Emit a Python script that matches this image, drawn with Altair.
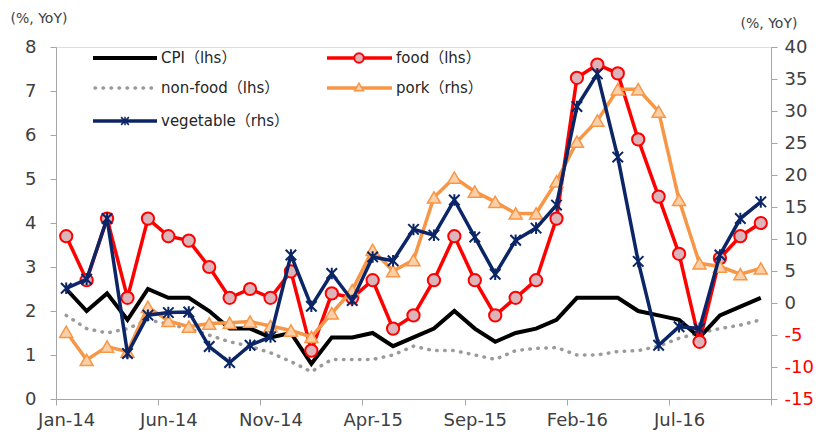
import altair as alt
import pandas as pd

months = ["Jan-14", "Feb-14", "Mar-14", "Apr-14", "May-14", "Jun-14", "Jul-14", "Aug-14", "Sep-14", "Oct-14", "Nov-14", "Dec-14",
          "Jan-15", "Feb-15", "Mar-15", "Apr-15", "May-15", "Jun-15", "Jul-15", "Aug-15", "Sep-15", "Oct-15", "Nov-15", "Dec-15",
          "Jan-16", "Feb-16", "Mar-16", "Apr-16", "May-16", "Jun-16", "Jul-16", "Aug-16", "Sep-16", "Oct-16", "Nov-16"]

cpi = [2.5, 2.0, 2.4, 1.8, 2.5, 2.3, 2.3, 2.0, 1.6, 1.6, 1.4, 1.5,
       0.8, 1.4, 1.4, 1.5, 1.2, 1.4, 1.6, 2.0, 1.6, 1.3, 1.5, 1.6,
       1.8, 2.3, 2.3, 2.3, 2.0, 1.9, 1.8, 1.4, 1.9, 2.1, 2.3]
food = [3.7, 2.7, 4.1, 2.3, 4.1, 3.7, 3.6, 3.0, 2.3, 2.5, 2.3, 2.9,
        1.1, 2.4, 2.3, 2.7, 1.6, 1.9, 2.7, 3.7, 2.7, 1.9, 2.3, 2.7,
        4.1, 7.3, 7.6, 7.4, 5.9, 4.6, 3.3, 1.3, 3.2, 3.7, 4.0]
nonfood = [1.9, 1.6, 1.5, 1.6, 1.8, 1.7, 1.6, 1.45, 1.3, 1.2, 1.05, 0.85,
           0.62, 0.9, 0.9, 0.9, 1.0, 1.2, 1.1, 1.1, 1.0, 0.9, 1.1, 1.15,
           1.17, 1.0, 1.0, 1.08, 1.1, 1.2, 1.38, 1.5, 1.6, 1.68, 1.8]
pork = [-4.5, -8.9, -6.8, -7.6, -0.6, -2.8, -3.7, -3.2, -3.1, -2.9, -3.6, -4.3,
        -5.3, -1.6, 2.0, 8.3, 5.0, 6.7, 16.5, 19.6, 17.4, 15.8, 14.0, 14.0,
        19.0, 25.2, 28.5, 33.4, 33.4, 29.9, 16.1, 6.2, 5.7, 4.5, 5.4]
vegetable = [2.3, 3.7, 13.2, -7.9, -1.9, -1.5, -1.4, -6.8, -9.3, -6.6, -5.3, 7.5,
             -0.5, 4.6, 0.4, 7.2, 6.6, 11.5, 10.6, 16.1, 10.3, 4.5, 9.8, 11.7,
             15.3, 30.7, 35.8, 22.8, 6.5, -6.6, -3.7, -4.0, 7.5, 13.2, 15.8]

left_ticks = list(range(0, 9))
right_ticks = list(range(-15, 41, 5))
x_tick_values = list(range(0, 36, 5))

FONT = "DejaVu Sans, Noto Sans CJK JP"
TXT = "#404040"
AXC = "#A6A6A6"

rows = []
for name, vals in [("CPI", cpi), ("food", food), ("nonfood", nonfood), ("pork", pork), ("vegetable", vegetable)]:
    for i, (m, v) in enumerate(zip(months, vals)):
        rows.append({"series": name, "month": m, "xpos": i + 0.5, "value": v})
df = pd.DataFrame(rows)

label_arr = "[" + ",".join("'" + m + "'" for m in months) + "]"

X = alt.X("xpos:Q",
          scale=alt.Scale(domain=[0, 35], nice=False, zero=False),
          axis=alt.Axis(values=x_tick_values, labelExpr=label_arr + "[datum.value] || ''",
                        labelOffset=10.2, tickSize=6, tickColor=AXC, domainColor=AXC,
                        labelFont=FONT, labelFontSize=18, labelColor=TXT, labelPadding=6,
                        grid=False, title=None, labelFlush=False, labelOverlap=False))

YL = alt.Y("value:Q",
           scale=alt.Scale(domain=[0, 8], nice=False, zero=False),
           axis=alt.Axis(orient="left", values=left_ticks, tickSize=6, tickColor=AXC, domainColor=AXC,
                         labelFont=FONT, labelFontSize=18, labelColor=TXT, labelPadding=14,
                         grid=False, title="(%, YoY)", titleAngle=0, titleX=-46, titleY=-29,
                         titleAlign="left", titleBaseline="middle", titleFont=FONT,
                         titleFontSize=14, titleFontWeight="normal", titleColor=TXT))

YR = alt.Y("value:Q",
           scale=alt.Scale(domain=[-15, 40], nice=False, zero=False),
           axis=alt.Axis(orient="right", values=right_ticks, tickSize=6, tickColor=AXC, domainColor=AXC,
                         labelFont=FONT, labelFontSize=18, labelPadding=7,
                         labelExpr="'' + datum.value",
                         labelColor={"condition": {"test": "datum.value < 0", "value": "#FF0000"}, "value": TXT},
                         grid=False, title="(%, YoY)", titleAngle=0, titleX=-31, titleY=-24,
                         titleAlign="left", titleBaseline="middle", titleFont=FONT,
                         titleFontSize=14, titleFontWeight="normal", titleColor=TXT))

base = alt.Chart(df)

nonfood_l = base.transform_filter("datum.series == 'nonfood'").mark_line(
    color="#9A9A9A", strokeWidth=3.5, strokeDash=[0.5, 7.5], strokeCap="round").encode(x=X, y=YL)
cpi_l = base.transform_filter("datum.series == 'CPI'").mark_line(
    color="#000000", strokeWidth=4).encode(x=X, y=YL)
food_l = base.transform_filter("datum.series == 'food'").mark_line(
    color="#FF0000", strokeWidth=3.5,
    point=alt.OverlayMarkDef(shape="circle", size=150, filled=True, fill="#DDB4BA", stroke="#FF0000", strokeWidth=2, opacity=1)
).encode(x=X, y=YL)

STAR = "M-1,-1L1,1M-1,1L1,-1M0,-1.1L0,1.1"
pork_l = base.transform_filter("datum.series == 'pork'").mark_line(
    color="#F79646", strokeWidth=3.5,
    point=alt.OverlayMarkDef(shape="triangle-up", size=170, filled=True, fill="#FBCFA8", stroke="#F79646", strokeWidth=1.5, opacity=1)
).encode(x=X, y=YR)
veg_line = base.transform_filter("datum.series == 'vegetable'").mark_line(
    color="#0B2566", strokeWidth=3.5).encode(x=X, y=YR)
veg_pts = base.transform_filter("datum.series == 'vegetable'").mark_point(
    shape=STAR, size=110, filled=False, stroke="#0B2566", strokeWidth=2, opacity=1).encode(x=X, y=YR)

left = alt.layer(nonfood_l, cpi_l, food_l)
right = alt.layer(pork_l, veg_line, veg_pts)

# legend (layout only)
ONE = "datum.xpos == 0.5 && datum.series == 'CPI'"

def leg_rule(x1, x2, y, color, width, dash=None):
    kw = dict(color=color, strokeWidth=width)
    if dash:
        kw.update(strokeDash=dash, strokeCap="round")
    return alt.Chart(df).transform_filter(ONE).mark_rule(**kw).encode(
        x=alt.value(x1), x2=alt.value(x2), y=alt.value(y))

def leg_text(x, y, label):
    return alt.Chart(df).transform_filter(ONE).mark_text(
        align="left", baseline="middle", font=FONT, fontSize=15, color="#262626").encode(
        x=alt.value(x), y=alt.value(y), text=alt.value(label))

def leg_point(x, y, **kw):
    return alt.Chart(df).transform_filter(ONE).mark_point(
        opacity=1, **kw).encode(x=alt.value(x), y=alt.value(y))

legend = [
    leg_rule(37, 101, 11, "#000000", 4), leg_text(105, 11, "CPI（lhs）"),
    leg_rule(39, 99, 41, "#9A9A9A", 3.5, [0.5, 7.5]), leg_text(105, 41, "non-food（lhs）"),
    leg_rule(37, 101, 74, "#0B2566", 3.5), leg_point(69, 74, shape=STAR, size=60, filled=False, stroke="#0B2566", strokeWidth=1.5),
    leg_text(105, 74, "vegetable（rhs）"),
    leg_rule(271, 336, 11, "#FF0000", 3.5), leg_point(303, 11, shape="circle", size=90, filled=True, fill="#DDB4BA", stroke="#FF0000", strokeWidth=2),
    leg_text(340, 11, "food（lhs）"),
    leg_rule(271, 336, 41, "#F79646", 3.5), leg_point(303, 40, shape="triangle-up", size=80, filled=True, fill="#FBCFA8", stroke="#F79646", strokeWidth=1.5),
    leg_text(340, 41, "pork（rhs）"),
]

chart = alt.layer(left, right, *legend).resolve_scale(y="independent").properties(
    width=715, height=352,
    autosize=alt.AutoSizeParams(type="none"),
    padding={"left": 48, "top": 39, "right": 47, "bottom": 36},
).configure_view(stroke=None).configure(background="white")

chart.save("out.html", embed_options={"renderer": "svg", "actions": False})
